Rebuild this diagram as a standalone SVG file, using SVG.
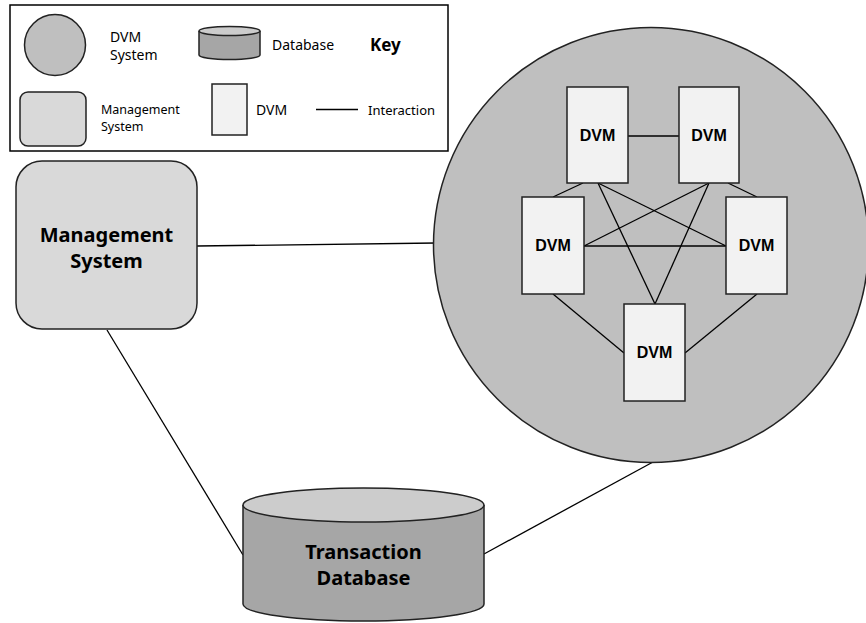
<svg xmlns="http://www.w3.org/2000/svg" width="866" height="623" viewBox="0 0 866 623">
<style>
.ln{stroke:#000;stroke-width:1.3;fill:none}
.sh{stroke:#222;stroke-width:1.5}
.t{font-family:"Noto Sans","Open Sans",sans-serif;fill:#000}
.b{font-family:"Noto Sans","Open Sans",sans-serif;font-weight:bold;fill:#000}
.dv{font-family:"Liberation Sans",Arial,sans-serif;font-weight:bold;font-size:16px;fill:#000;text-anchor:middle}
.dvm{fill:#f2f2f2;stroke:#222;stroke-width:1.5}
</style>
<rect width="866" height="623" fill="#fff"/>
<g id="key">
<rect x="10" y="5" width="438" height="146" fill="#fff" stroke="#000" stroke-width="1.5"/>
<circle cx="55" cy="45" r="30.5" fill="#bfbfbf" class="sh"/>
<text class="t" font-size="14" x="110" y="42">DVM</text>
<text class="t" font-size="14" x="110" y="60">System</text>
<path d="M199,31 V55 A30.5,4.5 0 0 0 260,55 V31" fill="#a6a6a6" class="sh"/>
<ellipse cx="229.5" cy="31" rx="30.5" ry="4.5" fill="#cccccc" class="sh"/>
<text class="t" font-size="14" x="272" y="50">Database</text>
<text class="b" font-size="17" x="370" y="51">Key</text>
<rect x="20" y="92" width="66" height="54" rx="8" fill="#d9d9d9" class="sh"/>
<text class="t" font-size="12.5" x="101" y="114">Management</text>
<text class="t" font-size="12.5" x="101" y="131">System</text>
<rect x="212" y="84" width="35" height="51" class="dvm"/>
<text class="t" font-size="14" x="256" y="115">DVM</text>
<line x1="316" y1="109.5" x2="358" y2="109.5" class="ln"/>
<text class="t" font-size="13" x="368" y="115">Interaction</text>
</g>
<g id="connectors">
<line x1="197" y1="246" x2="436" y2="243" class="ln"/>
<line x1="107" y1="330" x2="243" y2="555" class="ln"/>
<line x1="653" y1="462" x2="484" y2="554" class="ln"/>
</g>
<g id="dvm-system">
<circle cx="651" cy="245" r="217.5" fill="#bfbfbf" stroke="#222" stroke-width="1.5"/>
<g id="dvm-connectors">
<line x1="628" y1="136" x2="679" y2="136" class="ln"/>
<line x1="583" y1="183" x2="553" y2="197" class="ln"/>
<line x1="728" y1="183" x2="757" y2="197" class="ln"/>
<line x1="598" y1="183" x2="726" y2="246" class="ln"/>
<line x1="598" y1="183" x2="655" y2="304" class="ln"/>
<line x1="709" y1="183" x2="584" y2="246" class="ln"/>
<line x1="709" y1="183" x2="655" y2="304" class="ln"/>
<line x1="584" y1="246" x2="726" y2="246" class="ln"/>
<line x1="553" y1="294" x2="624" y2="353" class="ln"/>
<line x1="757" y1="294" x2="685" y2="353" class="ln"/>
</g>
<g id="dvm1"><rect x="567" y="87" width="61" height="96" class="dvm"/><text class="dv" x="597.5" y="141">DVM</text></g>
<g id="dvm2"><rect x="679" y="87" width="60" height="96" class="dvm"/><text class="dv" x="709" y="141">DVM</text></g>
<g id="dvm3"><rect x="522" y="197" width="62" height="97" class="dvm"/><text class="dv" x="553" y="251">DVM</text></g>
<g id="dvm4"><rect x="726" y="197" width="61" height="97" class="dvm"/><text class="dv" x="756.5" y="251">DVM</text></g>
<g id="dvm5"><rect x="624" y="304" width="61" height="97" class="dvm"/><text class="dv" x="654.5" y="358">DVM</text></g>
</g>
<g id="management-system">
<rect x="16" y="161" width="181" height="168" rx="26" fill="#d9d9d9" class="sh"/>
<text class="b" font-size="20" x="106.5" y="242" text-anchor="middle">Management</text>
<text class="b" font-size="20" x="106.5" y="268" text-anchor="middle">System</text>
</g>
<g id="transaction-database">
<path d="M243,505 V604 A120.5,17 0 0 0 484,604 V505" fill="#a6a6a6" class="sh"/>
<ellipse cx="363.5" cy="505" rx="120.5" ry="17" fill="#cccccc" class="sh"/>
<text class="b" font-size="20" x="363.5" y="559" text-anchor="middle">Transaction</text>
<text class="b" font-size="20" x="363.5" y="585" text-anchor="middle">Database</text>
</g>
</svg>
